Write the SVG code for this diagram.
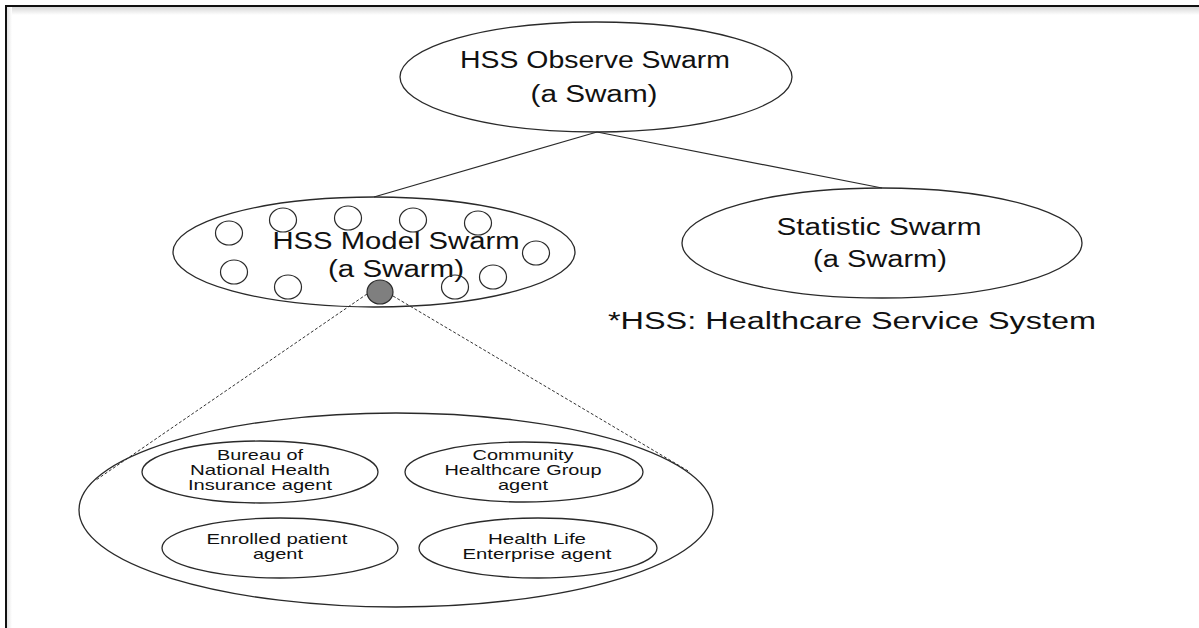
<svg xmlns="http://www.w3.org/2000/svg" width="1199" height="628" viewBox="0 0 1199 628">
<defs>
<linearGradient id="shTop" x1="0" y1="0" x2="0" y2="1">
<stop offset="0" stop-color="#d8d8d8"/>
<stop offset="1" stop-color="#ffffff"/>
</linearGradient>
<linearGradient id="shLeft" x1="0" y1="0" x2="1" y2="0">
<stop offset="0" stop-color="#e4e4e4"/>
<stop offset="1" stop-color="#ffffff"/>
</linearGradient>
</defs>
<style>
.el{fill:none;stroke:#2a2a2a;stroke-width:1.3}
.sm{fill:none;stroke:#2a2a2a;stroke-width:1.2}
.big{font-family:"Liberation Sans",Arial,sans-serif;font-size:23px;fill:#111;text-anchor:middle}
.lab{font-family:"Liberation Sans",Arial,sans-serif;font-size:15px;fill:#111;text-anchor:middle}
.ln{stroke:#2a2a2a;stroke-width:1.2;fill:none}
.dash{stroke:#333;stroke-width:1;stroke-dasharray:3 2;fill:none}
</style>
<rect x="0" y="0" width="1199" height="628" fill="#ffffff"/>
<rect x="7" y="7" width="1192" height="8" fill="url(#shTop)"/>
<rect x="7" y="7" width="5" height="621" fill="url(#shLeft)"/>
<path d="M6,628 V6 H1199" fill="none" stroke="#111" stroke-width="2"/>

<g id="connectors">
<line class="ln" x1="597" y1="132" x2="374" y2="197"/>
<line class="ln" x1="597" y1="132" x2="882" y2="188"/>
<line class="dash" x1="367" y1="294" x2="96" y2="480"/>
<line class="dash" x1="393" y1="296" x2="690" y2="472"/>
</g>

<g id="observe">
<ellipse class="el" cx="596" cy="77" rx="196" ry="55"/>
<text class="big" x="595" y="68" textLength="270" lengthAdjust="spacingAndGlyphs">HSS Observe Swarm</text>
<text class="big" x="594" y="102" textLength="127" lengthAdjust="spacingAndGlyphs">(a Swam)</text>
</g>

<g id="model">
<ellipse class="el" cx="374" cy="252" rx="201" ry="55"/>
<text class="big" x="396" y="249" textLength="247" lengthAdjust="spacingAndGlyphs">HSS Model Swarm</text>
<text class="big" x="396" y="277" textLength="136" lengthAdjust="spacingAndGlyphs">(a Swarm)</text>
<ellipse class="sm" cx="229" cy="233" rx="13.5" ry="12"/>
<ellipse class="sm" cx="283" cy="220" rx="13.5" ry="12"/>
<ellipse class="sm" cx="348" cy="218" rx="13.5" ry="12"/>
<ellipse class="sm" cx="413" cy="220" rx="13.5" ry="12"/>
<ellipse class="sm" cx="478" cy="223" rx="13.5" ry="12"/>
<ellipse class="sm" cx="536" cy="253" rx="13.5" ry="12"/>
<ellipse class="sm" cx="493" cy="277" rx="13.5" ry="12"/>
<ellipse class="sm" cx="455" cy="287" rx="13.5" ry="12"/>
<ellipse class="sm" cx="234" cy="272" rx="13.5" ry="12"/>
<ellipse class="sm" cx="288" cy="287" rx="13.5" ry="12"/>
<ellipse cx="380" cy="292" rx="13" ry="12" fill="#7f7f7f" stroke="#2a2a2a" stroke-width="1.2"/>
</g>

<g id="statistic">
<ellipse class="el" cx="882" cy="243" rx="200" ry="55"/>
<text class="big" x="879" y="235" textLength="205" lengthAdjust="spacingAndGlyphs">Statistic Swarm</text>
<text class="big" x="880" y="267" textLength="134" lengthAdjust="spacingAndGlyphs">(a Swarm)</text>
</g>

<text class="big" x="852" y="329" textLength="488" lengthAdjust="spacingAndGlyphs">*HSS: Healthcare Service System</text>

<g id="agents">
<ellipse class="el" cx="396" cy="510" rx="317" ry="97"/>
</g>

<g id="bureau">
<ellipse class="el" cx="260" cy="472" rx="118" ry="31"/>
<text class="lab" x="260" y="460" textLength="86" lengthAdjust="spacingAndGlyphs">Bureau of</text>
<text class="lab" x="260" y="475" textLength="140" lengthAdjust="spacingAndGlyphs">National Health</text>
<text class="lab" x="260" y="490" textLength="144" lengthAdjust="spacingAndGlyphs">Insurance agent</text>
</g>

<g id="community">
<ellipse class="el" cx="524" cy="472" rx="119" ry="30"/>
<text class="lab" x="523" y="460" textLength="101" lengthAdjust="spacingAndGlyphs">Community</text>
<text class="lab" x="523" y="475" textLength="157" lengthAdjust="spacingAndGlyphs">Healthcare Group</text>
<text class="lab" x="523" y="490" textLength="50" lengthAdjust="spacingAndGlyphs">agent</text>
</g>

<g id="enrolled">
<ellipse class="el" cx="280" cy="548" rx="118" ry="30"/>
<text class="lab" x="277" y="544" textLength="141" lengthAdjust="spacingAndGlyphs">Enrolled patient</text>
<text class="lab" x="278" y="559" textLength="50" lengthAdjust="spacingAndGlyphs">agent</text>
</g>

<g id="healthlife">
<ellipse class="el" cx="538" cy="548" rx="119" ry="30"/>
<text class="lab" x="537" y="544" textLength="98" lengthAdjust="spacingAndGlyphs">Health Life</text>
<text class="lab" x="537" y="559" textLength="149" lengthAdjust="spacingAndGlyphs">Enterprise agent</text>
</g>
</svg>
